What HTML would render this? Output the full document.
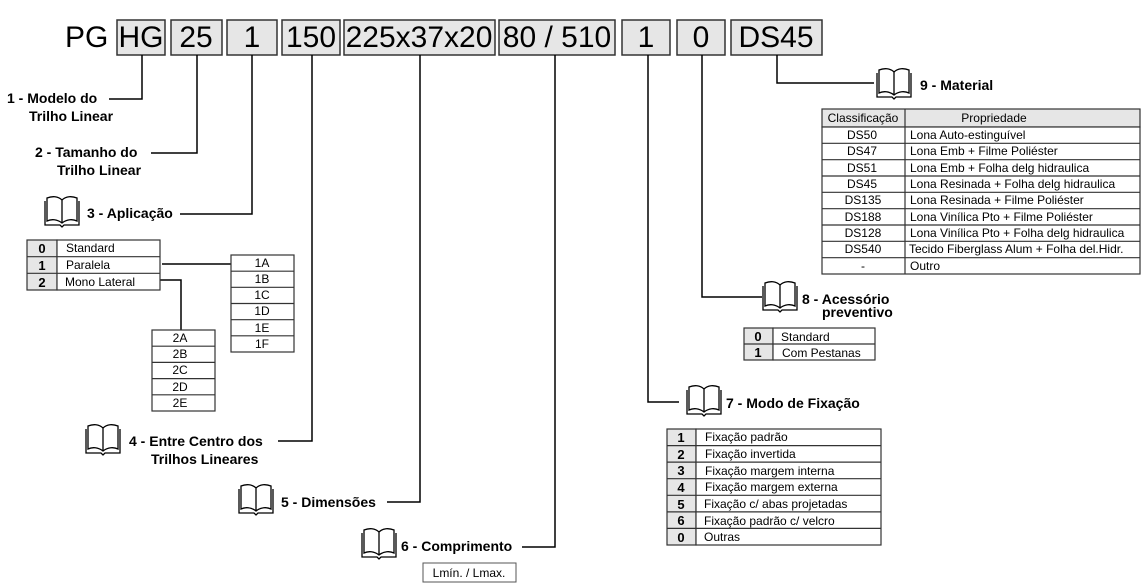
<!DOCTYPE html>
<html><head><meta charset="utf-8"><style>
html,body{margin:0;padding:0;background:#fff;}
svg{display:block;font-family:"Liberation Sans",Arial,sans-serif;}
.b{font-weight:bold;font-size:14px;}
.t{font-size:12px;}
.n{font-size:13px;font-weight:bold;}
</style></head><body>
<svg width="1145" height="586" viewBox="0 0 1145 586" xmlns="http://www.w3.org/2000/svg">
<defs>
<g id="bk"><path d="M18,28 C13,24 7,24 3,26 L3,3 C8,1 14,1 18,5 C22,1 28,1 33,3 L33,26 C29,24 23,24 18,28 Z M18,5 L18,28 M1,6 L1,30 L16,30 L18,32 L20,30 L35,30 L35,6" fill="none" stroke="#000" stroke-width="1.3"/></g>
</defs>
<!-- top code -->
<text x="65" y="47" font-size="30">PG</text>
<g fill="#e6e6e6" stroke="#333" stroke-width="1.5">
<rect x="117" y="20" width="48" height="35"/>
<rect x="171" y="20" width="51" height="35"/>
<rect x="227" y="20" width="50" height="35"/>
<rect x="282" y="20" width="58" height="35"/>
<rect x="344" y="20" width="151" height="35"/>
<rect x="499" y="20" width="116" height="35"/>
<rect x="622" y="20" width="48" height="35"/>
<rect x="677" y="20" width="48" height="35"/>
<rect x="731" y="20" width="91" height="35"/>
</g>
<g font-size="30" text-anchor="middle">
<text x="141" y="47">HG</text><text x="196" y="47">25</text><text x="252" y="47">1</text>
<text x="311" y="47">150</text><text x="419" y="47">225x37x20</text><text x="557" y="47">80 / 510</text>
<text x="646" y="47">1</text><text x="701" y="47">0</text><text x="776" y="47">DS45</text>
</g>
<!-- connectors -->
<g fill="none" stroke="#000" stroke-width="1.5">
<polyline points="142,55 142,99 109,99"/>
<polyline points="197,55 197,153 151,153"/>
<polyline points="252,55 252,214 180,214"/>
<polyline points="312,55 312,441 278,441"/>
<polyline points="420,55 420,502 387,502"/>
<polyline points="555,55 555,547 522,547"/>
<polyline points="648,55 648,402 679,402"/>
<polyline points="702,55 702,297 762,297"/>
<polyline points="777,55 777,83 874,83"/>
<polyline points="162,264 231,264"/>
<polyline points="160,280 181,280 181,330"/>
</g>
<!-- labels -->
<text class="b" x="7" y="103">1 - Modelo do</text><text class="b" x="29" y="121">Trilho Linear</text>
<text class="b" x="35" y="157">2 - Tamanho do</text><text class="b" x="57" y="175">Trilho Linear</text>
<use href="#bk" x="44" y="195"/><text class="b" x="87" y="218">3 - Aplicação</text>
<use href="#bk" x="85" y="423"/><text class="b" x="129" y="446">4 - Entre Centro dos</text><text class="b" x="151" y="464">Trilhos Lineares</text>
<use href="#bk" x="238" y="483"/><text class="b" x="281" y="507">5 - Dimensões</text>
<use href="#bk" x="361" y="527"/><text class="b" x="401" y="551">6 - Comprimento</text>
<rect x="423" y="563" width="93" height="19" fill="#fff" stroke="#555"/><text class="t" x="469" y="577" text-anchor="middle" font-size="11">Lmín. / Lmax.</text>
<use href="#bk" x="686" y="384"/><text class="b" x="726" y="408">7 - Modo de Fixação</text>
<use href="#bk" x="762" y="280"/><text class="b" x="802" y="304">8 - Acessório</text><text class="b" x="822" y="317">preventivo</text>
<use href="#bk" x="876" y="67"/><text class="b" x="920" y="90">9 - Material</text>
<!-- table 3 -->
<g stroke="#333" stroke-width="1.2">
<rect x="27" y="240" width="30" height="50" fill="#e6e6e6"/>
<rect x="57" y="240" width="103" height="50" fill="#fff"/>
<line x1="27" y1="256.7" x2="160" y2="256.7"/><line x1="27" y1="273.3" x2="160" y2="273.3"/>
</g>
<g class="n" text-anchor="middle"><text x="42" y="253">0</text><text x="42" y="270">1</text><text x="42" y="287">2</text></g>
<g class="t"><text x="66" y="252">Standard</text><text x="66" y="269">Paralela</text><text x="65" y="286">Mono Lateral</text></g>
<!-- 1A-1F -->
<g stroke="#333" stroke-width="1.2" fill="#fff">
<rect x="231" y="255" width="63" height="97"/>
<line x1="231" y1="271.2" x2="294" y2="271.2"/><line x1="231" y1="287.3" x2="294" y2="287.3"/><line x1="231" y1="303.5" x2="294" y2="303.5"/><line x1="231" y1="319.7" x2="294" y2="319.7"/><line x1="231" y1="335.8" x2="294" y2="335.8"/>
<rect x="152" y="330" width="63" height="81"/>
<line x1="152" y1="346.2" x2="215" y2="346.2"/><line x1="152" y1="362.4" x2="215" y2="362.4"/><line x1="152" y1="378.6" x2="215" y2="378.6"/><line x1="152" y1="394.8" x2="215" y2="394.8"/>
</g>
<g class="t" text-anchor="middle">
<text x="262" y="267">1A</text><text x="262" y="283">1B</text><text x="262" y="299">1C</text><text x="262" y="315">1D</text><text x="262" y="332">1E</text><text x="262" y="348">1F</text>
<text x="180" y="342">2A</text><text x="180" y="358">2B</text><text x="180" y="374">2C</text><text x="180" y="391">2D</text><text x="180" y="407">2E</text>
</g>
<!-- table 7 -->
<g stroke="#333" stroke-width="1.2">
<rect x="667" y="429" width="29" height="116" fill="#e6e6e6"/>
<rect x="696" y="429" width="185" height="116" fill="#fff"/>
<path d="M667,445.6H881M667,462.1H881M667,478.7H881M667,495.3H881M667,511.9H881M667,528.4H881"/>
</g>
<g class="n" text-anchor="middle"><text x="681" y="442">1</text><text x="681" y="459">2</text><text x="681" y="475">3</text><text x="681" y="492">4</text><text x="681" y="509">5</text><text x="681" y="525">6</text><text x="681" y="542">0</text></g>
<g class="t"><text x="705" y="441">Fixação padrão</text><text x="705" y="458">Fixação invertida</text><text x="705" y="475">Fixação margem interna</text><text x="705" y="491">Fixação margem externa</text><text x="704" y="508">Fixação c/ abas projetadas</text><text x="704" y="525">Fixação padrão c/ velcro</text><text x="704" y="541">Outras</text></g>
<!-- table 8 -->
<g stroke="#333" stroke-width="1.2">
<rect x="744" y="328" width="29" height="32" fill="#e6e6e6"/>
<rect x="773" y="328" width="102" height="32" fill="#fff"/>
<line x1="744" y1="344" x2="875" y2="344"/>
</g>
<g class="n" text-anchor="middle"><text x="758" y="341">0</text><text x="758" y="357">1</text></g>
<g class="t"><text x="781" y="341">Standard</text><text x="782" y="357">Com Pestanas</text></g>
<!-- table 9 -->
<g stroke="#333" stroke-width="1.2">
<rect x="822" y="109" width="318" height="18" fill="#e6e6e6"/>
<rect x="822" y="127" width="318" height="147" fill="#fff"/>
<line x1="905" y1="109" x2="905" y2="274"/>
<path d="M822,143.3H1140M822,159.7H1140M822,176H1140M822,192.3H1140M822,208.7H1140M822,225H1140M822,241.3H1140M822,257.7H1140"/>
</g>
<g class="t">
<text x="863" y="122" text-anchor="middle">Classificação</text><text x="994" y="122" text-anchor="middle">Propriedade</text>
<g text-anchor="middle"><text x="862" y="139">DS50</text><text x="862" y="155">DS47</text><text x="862" y="172">DS51</text><text x="862" y="188">DS45</text><text x="863" y="204">DS135</text><text x="863" y="221">DS188</text><text x="863" y="237">DS128</text><text x="863" y="253">DS540</text><text x="863" y="270">-</text></g>
<text x="910" y="139">Lona Auto-estinguível</text><text x="910" y="155">Lona Emb + Filme Poliéster</text><text x="910" y="172">Lona Emb + Folha delg hidraulica</text><text x="910" y="188">Lona Resinada + Folha delg hidraulica</text><text x="910" y="204">Lona Resinada + Filme Poliéster</text><text x="910" y="221">Lona Vinílica Pto + Filme Poliéster</text><text x="910" y="237">Lona Vinílica Pto + Folha delg hidraulica</text><text x="909" y="253">Tecido Fiberglass Alum + Folha del.Hidr.</text><text x="910" y="270">Outro</text>
</g>
</svg>
</body></html>
